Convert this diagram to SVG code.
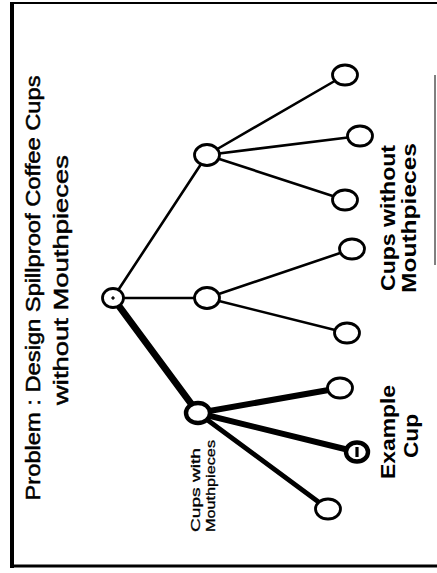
<svg xmlns="http://www.w3.org/2000/svg" width="437" height="573" viewBox="0 0 437 573">
  <style>
    .frame { stroke: #000; fill: none; }
    .edge { stroke: #000; stroke-linecap: round; fill: none; }
    .thin { stroke-width: 2.6; }
    .thick { stroke-width: 6; }
    .node { fill: #fff; stroke: #000; stroke-width: 2.8; }
    .node-bold { fill: #fff; stroke: #000; stroke-width: 4.4; }
    .title { font-family: "Liberation Sans", Arial, sans-serif; font-size: 21px; fill: #000; stroke: #000; stroke-width: 0.5; }
    .label { font-family: "Liberation Sans", Arial, sans-serif; font-size: 20px; font-weight: bold; fill: #000; }
    .small { font-family: "Liberation Sans", Arial, sans-serif; font-size: 13px; fill: #000; stroke: #000; stroke-width: 0.3; }
  </style>
  <rect width="437" height="573" fill="#fff"/>

  <!-- border -->
  <g id="border">
    <line class="frame" x1="12" y1="3" x2="437" y2="3" stroke-width="2"/>
    <line class="frame" x1="12" y1="2" x2="12" y2="568" stroke-width="4"/>
    <line class="frame" x1="10" y1="566" x2="437" y2="566" stroke-width="3"/>
    <line class="frame" x1="435" y1="75" x2="435" y2="265" stroke-width="1" stroke="#999"/>
  </g>

  <!-- title, printed sideways -->
  <g id="title">
    <text class="title" transform="translate(40,288) rotate(-90)" text-anchor="middle" textLength="425" lengthAdjust="spacingAndGlyphs">Problem :  Design Spillproof Coffee Cups</text>
    <text class="title" transform="translate(68,280) rotate(-90)" text-anchor="middle" textLength="250" lengthAdjust="spacingAndGlyphs">without Mouthpieces</text>
  </g>

  <!-- connectors -->
  <g id="connectors">
    <line class="edge thin" x1="113" y1="298" x2="207" y2="155"/>
    <line class="edge thin" x1="113" y1="298" x2="207" y2="298"/>
    <line class="edge" stroke-width="7" x1="113" y1="298" x2="198" y2="413"/>
    <line class="edge thin" x1="207" y1="155" x2="345" y2="75"/>
    <line class="edge thin" x1="207" y1="155" x2="360" y2="136"/>
    <line class="edge thin" x1="207" y1="155" x2="345" y2="200"/>
    <line class="edge thin" x1="207" y1="298" x2="352" y2="249"/>
    <line class="edge thin" x1="207" y1="298" x2="347" y2="333"/>
    <line class="edge thick" x1="198" y1="413" x2="340" y2="388"/>
    <line class="edge thick" x1="198" y1="413" x2="357" y2="452"/>
    <line class="edge" stroke-width="4.8" x1="198" y1="413" x2="328" y2="509"/>
  </g>

  <!-- nodes -->
  <g id="root">
    <ellipse class="node" cx="113" cy="298" rx="10.5" ry="9.5" stroke-width="3.8"/>
    <path d="M111.3 298 h3.4 M113 296.3 v3.4" stroke="#000" stroke-width="1.5"/>
  </g>
  <g id="branch-upper"><ellipse class="node" cx="207" cy="155" rx="12.5" ry="10.5"/></g>
  <g id="branch-middle"><ellipse class="node" cx="207" cy="298" rx="12.5" ry="10.5"/></g>
  <g id="branch-mouthpieces"><ellipse class="node-bold" cx="198" cy="413" rx="12" ry="10"/></g>

  <g id="leaf-1"><ellipse class="node" cx="345" cy="75" rx="12.5" ry="10"/></g>
  <g id="leaf-2"><ellipse class="node" cx="360" cy="136" rx="12.5" ry="10"/></g>
  <g id="leaf-3"><ellipse class="node" cx="345" cy="200" rx="12.5" ry="10"/></g>
  <g id="leaf-4"><ellipse class="node" cx="352" cy="249" rx="12.5" ry="10"/></g>
  <g id="leaf-5"><ellipse class="node" cx="347" cy="333" rx="12.5" ry="10"/></g>
  <g id="leaf-6"><ellipse class="node" cx="340" cy="388" rx="12.5" ry="10"/></g>
  <g id="leaf-example">
    <ellipse class="node-bold" cx="357" cy="452" rx="11" ry="9.5"/>
    <line x1="357" y1="447" x2="357" y2="457" stroke="#000" stroke-width="3.2"/>
  </g>
  <g id="leaf-8"><ellipse class="node" cx="328" cy="509" rx="12.5" ry="10"/></g>

  <!-- labels -->
  <g id="label-with">
    <text class="small" transform="translate(200,532) rotate(-90)" textLength="84" lengthAdjust="spacingAndGlyphs">Cups with</text>
    <text class="small" transform="translate(215,532) rotate(-90)" textLength="92" lengthAdjust="spacingAndGlyphs">Mouthpieces</text>
  </g>
  <g id="label-example">
    <text class="label" transform="translate(395,432) rotate(-90)" text-anchor="middle" textLength="94" lengthAdjust="spacingAndGlyphs">Example</text>
    <text class="label" transform="translate(418,436) rotate(-90)" text-anchor="middle" textLength="44" lengthAdjust="spacingAndGlyphs">Cup</text>
  </g>
  <g id="label-without">
    <text class="label" transform="translate(395,218) rotate(-90)" text-anchor="middle" textLength="146" lengthAdjust="spacingAndGlyphs">Cups without</text>
    <text class="label" transform="translate(416,218) rotate(-90)" text-anchor="middle" textLength="150" lengthAdjust="spacingAndGlyphs">Mouthpieces</text>
  </g>
</svg>
